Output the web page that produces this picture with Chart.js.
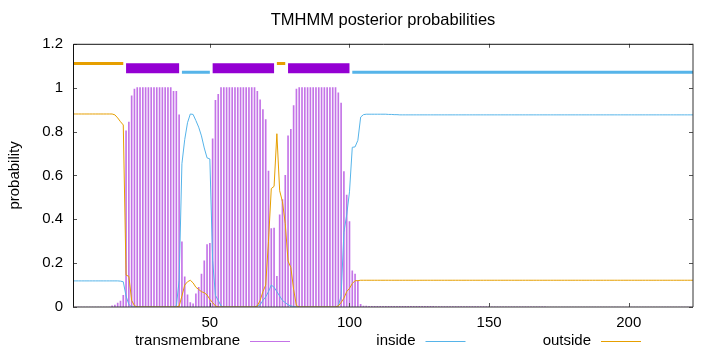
<!DOCTYPE html>
<html><head><meta charset="utf-8">
<script src="https://cdn.jsdelivr.net/npm/chart.js@4.4.0/dist/chart.umd.min.js"></script>
<style>html,body{margin:0;padding:0;background:#fff}#wrap{width:720px;height:352px;position:relative}</style>
</head><body><div id="wrap"><canvas id="c" width="720" height="352"></canvas></div>
<script>
const chartTitle = 'TMHMM posterior probabilities';
const yTitle = 'probability';
const seqLength = 223;
const xTicks = [50, 100, 150, 200];
const seriesNames = ['transmembrane', 'inside', 'outside'];

// posterior probabilities per residue (1..223)
const transmembrane = [
  0,0,0,0,0,0,0,0,0,0,
  0,0,0,0,0.005,0.009,0.018,0.027,0.053,0.803,
  0.843,0.963,0.994,1,1,1,1,1,1,1,
  1,1,1,1,1,1,0.983,0.983,0.876,0.297,
  0.137,0.056,0.02,0.015,0.06,0.09,0.15,0.21,0.285,0.29,
  0.767,0.942,0.97,1,1,1,1,1,1,1,
  1,1,1,1,1,1,0.983,0.945,0.9,0.854,
  0.62,0.358,0.36,0.14,0.42,0.49,0.6,0.78,0.81,0.918,
  0.994,1,1,1,1,1,1,1,1,1,
  1,1,1,1,1,0.976,0.93,0.617,0.51,0.39,
  0.165,0.15,0.12,0.012,0.004,0.004,0.003,0.003,0.003,0.003,
  0.003,0.003,0.003,0.003,0.003,0.003,0.003,0.003,0.003,0.003,
  0.003,0.003,0.003,0.003,0.003,0.003,0.003,0.003,0.003,0.003,
  0.002,0.002,0.002,0.002,0.002,0.002,0.002,0.002,0.002,0.002,
  0.002,0.002,0.002,0.002,0.002,0.002,0.002,0.002,0.002,0.002,
  0.001,0.001,0.001,0.001,0.001,0.001,0.001,0.001,0.001,0.001,
  0.001,0.001,0.001,0.001,0.001,0.001,0.001,0.001,0.001,0.001,
  0,0,0,0,0,0,0,0,0,0,
  0,0,0,0,0,0,0,0,0,0,
  0,0,0,0,0,0,0,0,0,0,
  0,0,0,0,0,0,0,0,0,0,
  0,0,0,0,0,0,0,0,0,0,
  0,0,0
];
const inside = [
  0.119,0.119,0.119,0.119,0.119,0.119,0.119,0.119,0.119,0.119,
  0.119,0.119,0.119,0.119,0.119,0.119,0.119,0.118,0.115,0.05,
  0.012,0,0,0,0,0,0,0,0,0,
  0,0,0,0,0,0,0,0.005,0.12,0.653,
  0.763,0.84,0.88,0.878,0.85,0.82,0.78,0.725,0.68,0.675,
  0.213,0.053,0.03,0.005,0,0,0,0,0,0,
  0,0,0,0,0,0,0.005,0.01,0.03,0.046,
  0.07,0.1,0.09,0.07,0.05,0.03,0.02,0.01,0.005,0.002,
  0,0,0,0,0,0,0,0,0,0,
  0,0,0,0,0,0.005,0.05,0.34,0.42,0.525,
  0.728,0.73,0.76,0.866,0.877,0.879,0.879,0.879,0.879,0.879,
  0.879,0.879,0.879,0.878,0.878,0.877,0.877,0.876,0.876,0.876,
  0.876,0.876,0.876,0.876,0.876,0.876,0.876,0.876,0.876,0.876,
  0.876,0.876,0.876,0.876,0.876,0.876,0.876,0.876,0.876,0.876,
  0.876,0.876,0.876,0.876,0.876,0.876,0.876,0.876,0.876,0.876,
  0.876,0.876,0.876,0.876,0.876,0.876,0.876,0.876,0.876,0.876,
  0.876,0.876,0.876,0.876,0.876,0.876,0.876,0.876,0.876,0.876,
  0.876,0.876,0.876,0.876,0.876,0.876,0.876,0.876,0.876,0.876,
  0.876,0.876,0.876,0.876,0.876,0.876,0.876,0.876,0.876,0.876,
  0.876,0.876,0.876,0.876,0.876,0.876,0.876,0.876,0.876,0.876,
  0.876,0.876,0.876,0.876,0.876,0.876,0.876,0.876,0.876,0.876,
  0.876,0.876,0.876,0.876,0.876,0.876,0.876,0.876,0.876,0.876,
  0.876,0.876,0.876
];
const outside = [
  0.88,0.88,0.88,0.88,0.88,0.88,0.88,0.88,0.88,0.88,
  0.88,0.88,0.88,0.88,0.88,0.876,0.862,0.845,0.83,0.145,
  0.14,0.03,0.006,0,0,0,0,0,0,0,
  0,0,0,0,0,0,0,0,0.004,0.05,
  0.1,0.115,0.122,0.11,0.09,0.08,0.07,0.065,0.055,0.035,
  0.02,0.005,0,0,0,0,0,0,0,0,
  0,0,0,0,0,0,0.005,0.03,0.07,0.1,
  0.3,0.54,0.55,0.79,0.53,0.48,0.38,0.21,0.18,0.08,
  0.006,0,0,0,0,0,0,0,0,0,
  0,0,0,0,0,0.005,0.02,0.04,0.07,0.085,
  0.107,0.12,0.12,0.122,0.122,0.122,0.122,0.122,0.122,0.122,
  0.122,0.122,0.122,0.122,0.122,0.122,0.122,0.122,0.122,0.122,
  0.122,0.122,0.122,0.122,0.122,0.122,0.122,0.122,0.122,0.122,
  0.122,0.122,0.122,0.122,0.122,0.122,0.122,0.122,0.122,0.122,
  0.122,0.122,0.122,0.122,0.122,0.122,0.122,0.122,0.122,0.122,
  0.122,0.122,0.122,0.122,0.122,0.122,0.122,0.122,0.122,0.122,
  0.122,0.122,0.122,0.122,0.122,0.122,0.122,0.122,0.122,0.122,
  0.122,0.122,0.122,0.122,0.122,0.122,0.122,0.122,0.122,0.122,
  0.122,0.122,0.122,0.122,0.122,0.122,0.122,0.122,0.122,0.122,
  0.122,0.122,0.122,0.122,0.122,0.122,0.122,0.122,0.122,0.122,
  0.122,0.122,0.122,0.122,0.122,0.122,0.122,0.122,0.122,0.122,
  0.122,0.122,0.122,0.122,0.122,0.122,0.122,0.122,0.122,0.122,
  0.122,0.122,0.122
];
// predicted topology segments (residue ranges)
const outsideSegments = [[1, 19], [74, 77]];
const tmSegments = [[20, 39], [51, 73], [78, 100]];
const insideSegments = [[40, 50], [101, 223]];

const COL_TM = '#9400D3', COL_IN = '#56B4E9', COL_OUT = '#E69F00';
const COL_TM_IMP = 'rgba(148,0,211,0.55)';
const FONT = '"Liberation Sans", Arial, Helvetica, sans-serif';

const toPts = arr => arr.map((v, i) => ({x: i + 1, y: v}));
const segPts = (segs, level) => segs.flatMap(([a, b]) => [{x: a, y: level}, {x: b, y: level}, {x: b + 0.5, y: null}]);

const frame = {
  id: 'frame',
  afterDraw(chart) {
    const {ctx, chartArea: a, scales} = chart;
    ctx.save();
    ctx.lineWidth = 1;
    // tick marks (inward, mirrored)
    ctx.strokeStyle = '#555';
    const tl = 4;
    scales.y.ticks.forEach(t => {
      const y = Math.round(scales.y.getPixelForValue(t.value)) + 0.5;
      ctx.beginPath(); ctx.moveTo(a.left, y); ctx.lineTo(a.left + tl, y);
      ctx.moveTo(a.right, y); ctx.lineTo(a.right - tl, y); ctx.stroke();
    });
    scales.x.ticks.forEach(t => {
      const x = Math.round(scales.x.getPixelForValue(t.value)) + 0.5;
      ctx.beginPath(); ctx.moveTo(x, a.bottom); ctx.lineTo(x, a.bottom - tl);
      ctx.moveTo(x, a.top); ctx.lineTo(x, a.top + tl); ctx.stroke();
    });
    // border
    ctx.strokeStyle = '#111';
    ctx.beginPath();
    ctx.moveTo(a.left + 0.5, a.bottom); ctx.lineTo(a.left + 0.5, a.top + 0.5); ctx.lineTo(a.right, a.top + 0.5);
    ctx.stroke();
    ctx.strokeStyle = '#333';
    ctx.beginPath();
    ctx.moveTo(a.right, a.top); ctx.lineTo(a.right, a.bottom); ctx.lineTo(a.left, a.bottom);
    ctx.stroke();
    // legend (text, then sample line)
    const cols = [COL_TM_IMP, COL_IN, COL_OUT];
    ctx.font = '15px ' + FONT;
    ctx.textAlign = 'right';
    ctx.textBaseline = 'middle';
    const ly = 341;
    seriesNames.forEach((name, i) => {
      const tx = 240 + i * 175.5;
      ctx.fillStyle = '#000';
      ctx.fillText(name, tx, ly);
      ctx.strokeStyle = cols[i];
      ctx.beginPath(); ctx.moveTo(tx + 10, ly + 0.5); ctx.lineTo(tx + 50, ly + 0.5); ctx.stroke();
    });
    ctx.restore();
  }
};

new Chart(document.getElementById('c'), {
  type: 'bar',
  data: {
    datasets: [
      {type: 'line', label: 'outside-seg', data: segPts(outsideSegments, 1.11), borderColor: COL_OUT, borderWidth: 3, pointRadius: 0, spanGaps: false, borderCapStyle: 'butt', order: 0},
      {type: 'line', label: 'inside-seg', data: segPts(insideSegments, 1.07), borderColor: COL_IN, borderWidth: 3, pointRadius: 0, spanGaps: false, borderCapStyle: 'butt', order: 0},
      {type: 'line', label: 'tm-seg', data: segPts(tmSegments, 1.089), borderColor: COL_TM, borderWidth: 10, pointRadius: 0, spanGaps: false, borderCapStyle: 'butt', order: 0},
      {type: 'line', label: seriesNames[2], data: toPts(outside), borderColor: COL_OUT, borderWidth: 1, pointRadius: 0, tension: 0, order: 1},
      {type: 'line', label: seriesNames[1], data: toPts(inside), borderColor: COL_IN, borderWidth: 1, pointRadius: 0, tension: 0, order: 2},
      {type: 'bar', label: seriesNames[0], data: toPts(transmembrane), backgroundColor: COL_TM_IMP, borderWidth: 0, barThickness: 1, order: 3}
    ]
  },
  options: {
    responsive: false,
    animation: false,
    devicePixelRatio: 1,
    layout: {padding: {left: 0, right: 27, top: 0, bottom: 0}},
    plugins: {
      legend: {display: false},
      tooltip: {enabled: false},
      title: {display: true, fullSize: false, text: chartTitle, color: '#000', font: {family: FONT, size: 16.5, weight: 'normal'}, padding: {top: 11, bottom: 13}}
    },
    scales: {
      x: {
        type: 'linear', min: 1, max: seqLength, offset: false,
        grid: {display: false, drawTicks: false},
        border: {display: false},
        ticks: {color: '#000', font: {family: FONT, size: 15}, padding: 7, maxRotation: 0},
        afterBuildTicks: s => { s.ticks = xTicks.map(v => ({value: v})); },
        afterFit: s => { s.height = 45; }
      },
      y: {
        min: 0, max: 1.2,
        grid: {display: false, drawTicks: false},
        border: {display: false},
        ticks: {stepSize: 0.2, color: '#000', font: {family: FONT, size: 15}, padding: 10,
          callback: v => String(Number(v.toFixed(2)))},
        title: {display: true, text: yTitle, color: '#000', font: {family: FONT, size: 15}, padding: {top: 6, bottom: 0}},
        afterFit: s => { s.width = 73; }
      }
    }
  },
  plugins: [frame]
});
</script>
</body></html>
